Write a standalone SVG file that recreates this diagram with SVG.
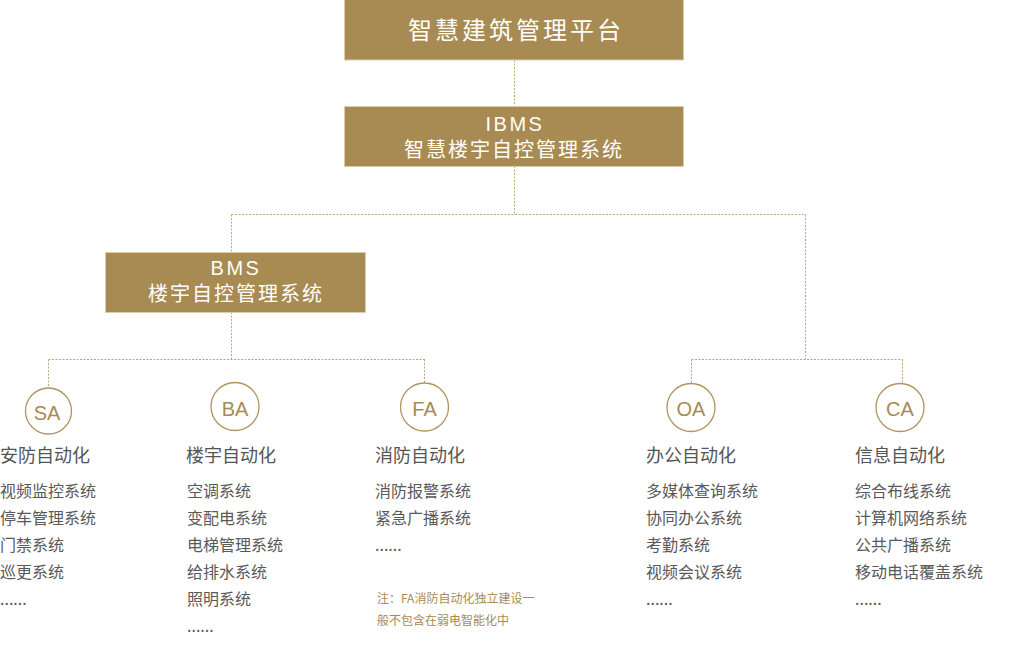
<svg xmlns="http://www.w3.org/2000/svg" width="1027" height="664" viewBox="0 0 1027 664">
<style>
.box{fill:#a88b52;stroke:#dccdaa;stroke-width:1}
.bt{fill:#ffffff;font-family:"Noto Sans CJK SC","Noto Sans",sans-serif;text-anchor:middle}
.bl{fill:#ffffff;font-family:"Liberation Sans",Arial,sans-serif;text-anchor:middle}
.ln{fill:none;stroke:#bda77c;stroke-width:1;stroke-dasharray:2 1.5}
.cir{fill:#ffffff;stroke:#b09560;stroke-width:1.3}
.ct{fill:#a88b52;font-family:"Liberation Sans",Arial,sans-serif;font-size:20px;text-anchor:middle}
.ttl{fill:#555555;font-family:"Noto Sans CJK SC",sans-serif;font-size:18px}
.it{fill:#595959;font-family:"Noto Sans CJK SC",sans-serif;font-size:16px}
.note{fill:#a88b52;font-family:"Noto Sans CJK SC",sans-serif;font-size:12px}
</style>
<rect width="1027" height="664" fill="#ffffff"/>
<g id="connectors">
<path class="ln" d="M514.5 60 V107"/>
<path class="ln" d="M514.5 166 V214.5"/>
<path class="ln" d="M231.5 214.5 H805.5"/>
<path class="ln" d="M231.5 214.5 V253"/>
<path class="ln" d="M805.5 214.5 V359.5"/>
<path class="ln" d="M231.5 312 V359.5"/>
<path class="ln" d="M48.5 359.5 H425.5"/>
<path class="ln" d="M48.5 359.5 V388"/>
<path class="ln" d="M424.5 359.5 V383"/>
<path class="ln" d="M691.5 359.5 H902.5"/>
<path class="ln" d="M691.5 359.5 V383"/>
<path class="ln" d="M902.5 359.5 V383"/>
</g>
<g id="platform">
<rect class="box" x="344.5" y="-1" width="339" height="61"/>
<text class="bt" x="516" y="39" font-size="24" letter-spacing="3">智慧建筑管理平台</text>
</g>
<g id="ibms">
<rect class="box" x="344.5" y="106.5" width="339" height="60"/>
<text class="bl" x="515" y="131" font-size="20" letter-spacing="2.5">IBMS</text>
<text class="bt" x="514" y="157" font-size="20" letter-spacing="2">智慧楼宇自控管理系统</text>
</g>
<g id="bms">
<rect class="box" x="105.5" y="252.5" width="260" height="60"/>
<text class="bl" x="236" y="275" font-size="20" letter-spacing="2.5">BMS</text>
<text class="bt" x="236" y="301" font-size="20" letter-spacing="2">楼宇自控管理系统</text>
</g>
<g id="sa">
<circle class="cir" cx="48.5" cy="411" r="23"/>
<text class="ct" x="47" y="419.5">SA</text>
<text class="ttl" x="0" y="462">安防自动化</text>
<text class="it" x="0" y="497">视频监控系统</text>
<text class="it" x="0" y="524">停车管理系统</text>
<text class="it" x="0" y="551">门禁系统</text>
<text class="it" x="0" y="578">巡更系统</text>
<text class="it" x="0" y="605">......</text>
</g>
<g id="ba">
<circle class="cir" cx="235" cy="406.5" r="24"/>
<text class="ct" x="235" y="415.5">BA</text>
<text class="ttl" x="186" y="462">楼宇自动化</text>
<text class="it" x="187" y="497">空调系统</text>
<text class="it" x="187" y="524">变配电系统</text>
<text class="it" x="187" y="551">电梯管理系统</text>
<text class="it" x="187" y="578">给排水系统</text>
<text class="it" x="187" y="605">照明系统</text>
<text class="it" x="187" y="632">......</text>
</g>
<g id="fa">
<circle class="cir" cx="424.5" cy="407" r="24"/>
<text class="ct" x="424.5" y="416">FA</text>
<text class="ttl" x="375" y="462">消防自动化</text>
<text class="it" x="375" y="497">消防报警系统</text>
<text class="it" x="375" y="524">紧急广播系统</text>
<text class="it" x="375" y="551">......</text>
<text class="note" x="377" y="603">注：FA消防自动化独立建设一</text>
<text class="note" x="377" y="624.5">般不包含在弱电智能化中</text>
</g>
<g id="oa">
<circle class="cir" cx="691" cy="407.5" r="24"/>
<text class="ct" x="691" y="416">OA</text>
<text class="ttl" x="646" y="462">办公自动化</text>
<text class="it" x="646" y="497">多媒体查询系统</text>
<text class="it" x="646" y="524">协同办公系统</text>
<text class="it" x="646" y="551">考勤系统</text>
<text class="it" x="646" y="578">视频会议系统</text>
<text class="it" x="646" y="605">......</text>
</g>
<g id="ca">
<circle class="cir" cx="900" cy="407.5" r="24"/>
<text class="ct" x="900" y="416">CA</text>
<text class="ttl" x="855" y="462">信息自动化</text>
<text class="it" x="855" y="497">综合布线系统</text>
<text class="it" x="855" y="524">计算机网络系统</text>
<text class="it" x="855" y="551">公共广播系统</text>
<text class="it" x="855" y="578">移动电话覆盖系统</text>
<text class="it" x="855" y="605">......</text>
</g>
</svg>
